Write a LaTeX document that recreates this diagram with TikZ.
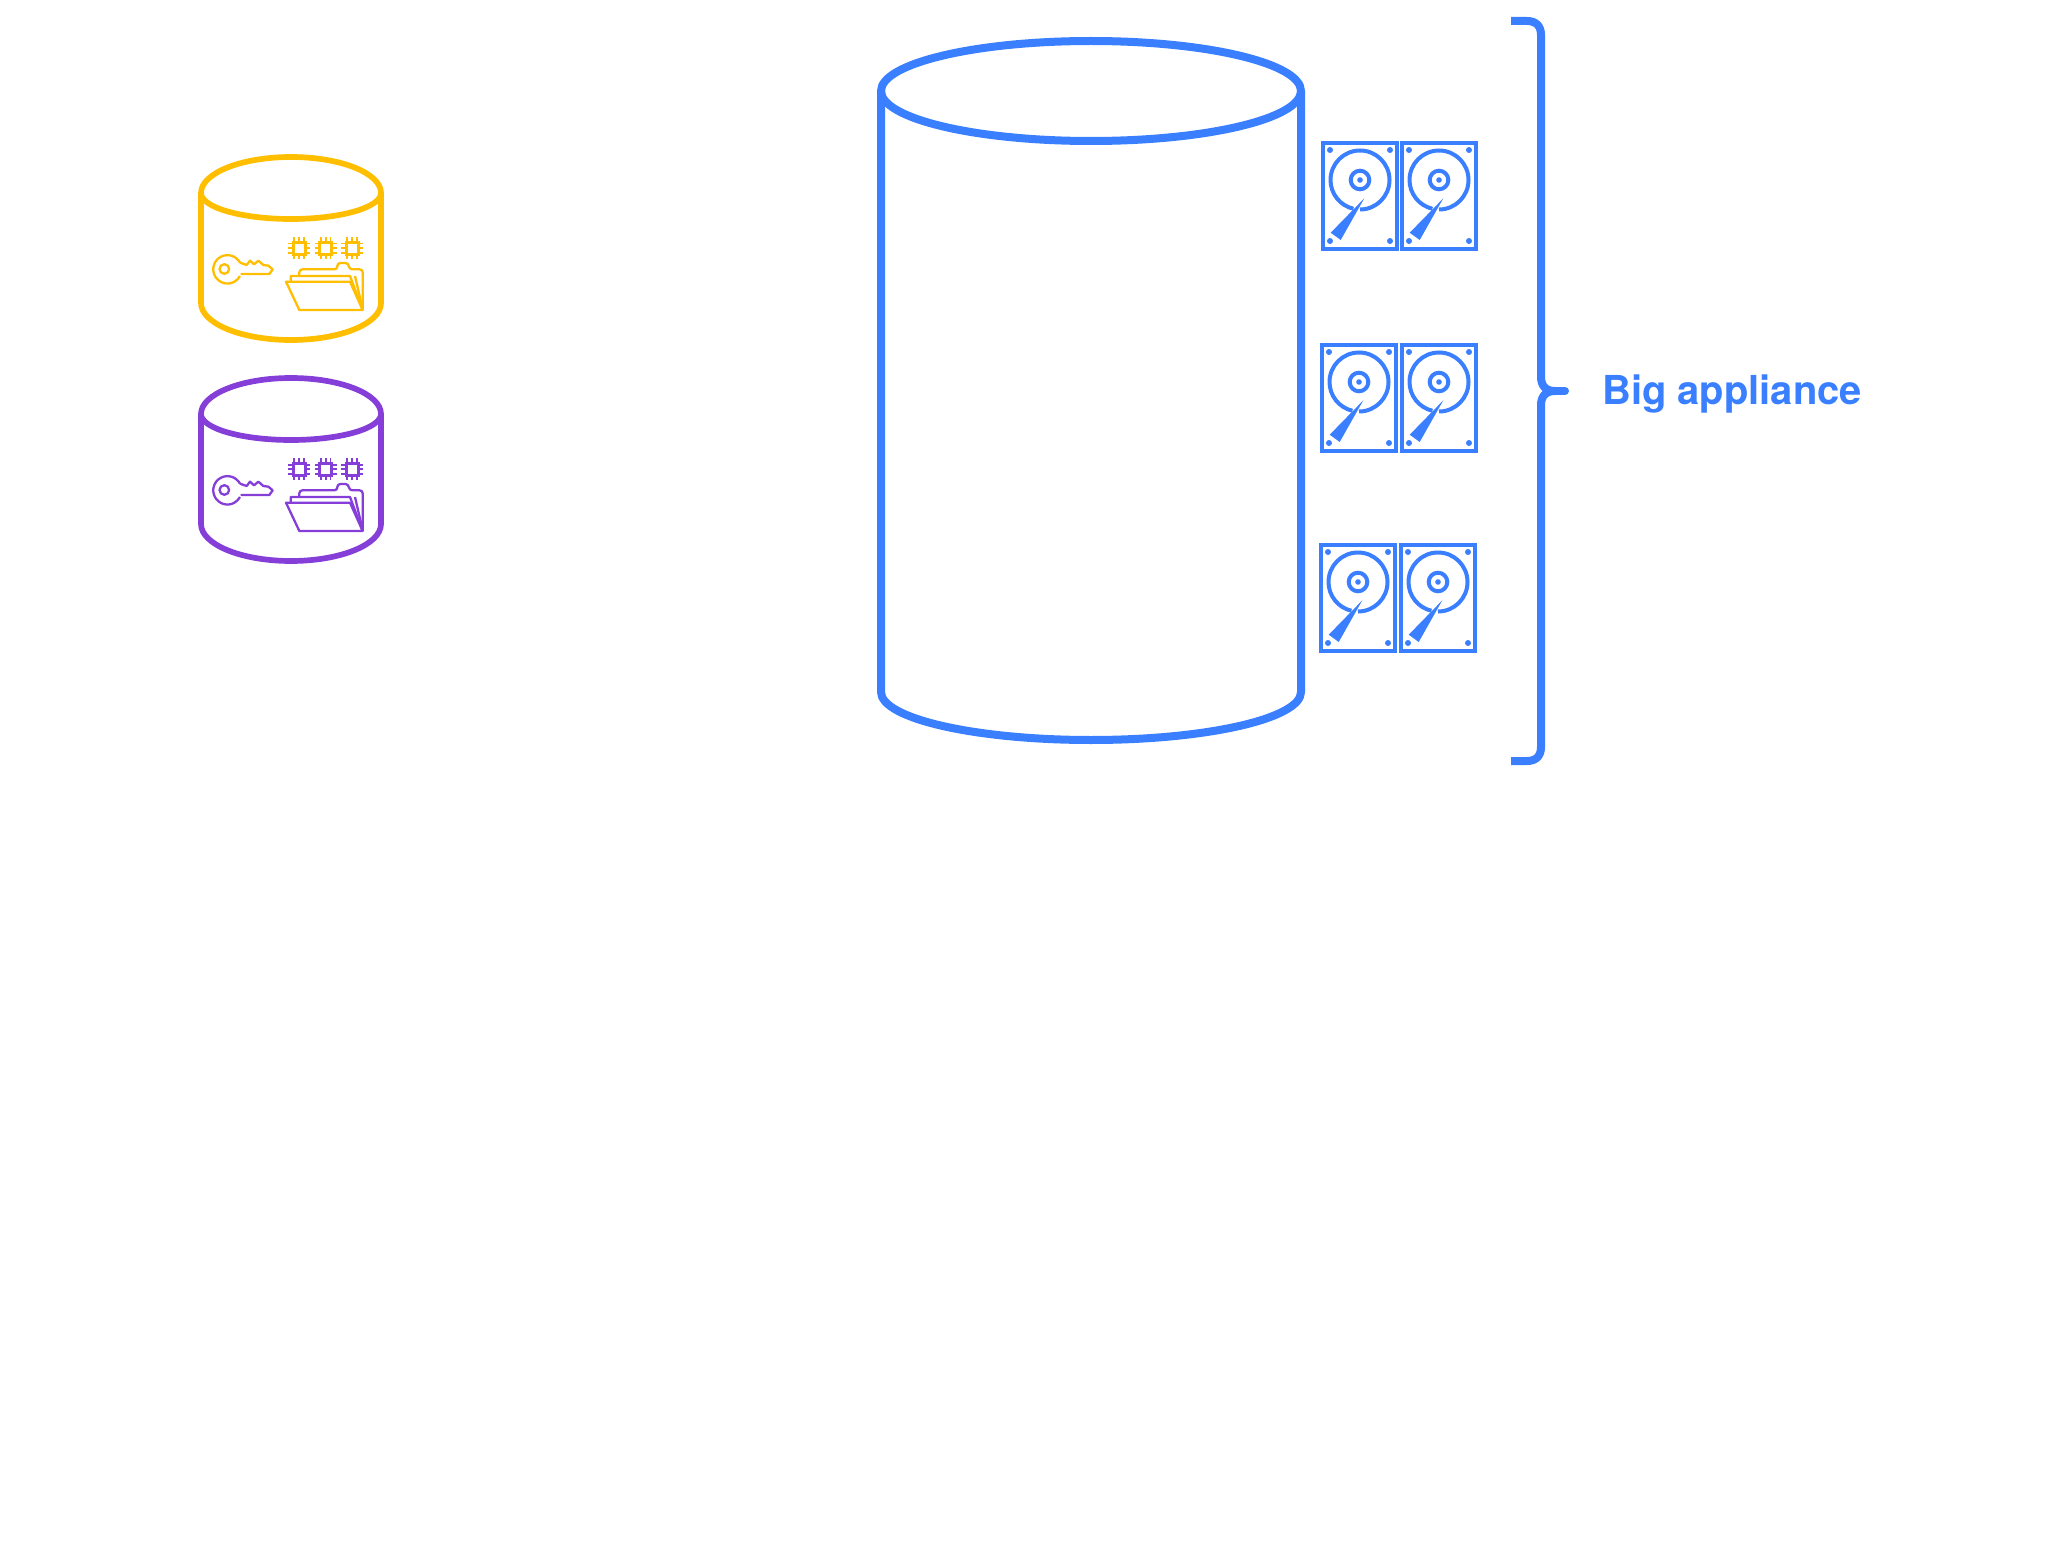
\documentclass[tikz,border=0pt]{standalone}
\usepackage{fontspec}
\setmainfont{TeX Gyre Heros}
\definecolor{bluec}{HTML}{3A7FFF}
\definecolor{yellowc}{HTML}{FFBF00}
\definecolor{purplec}{HTML}{853FD8}
\tikzset{
  big line/.style={draw=bluec,line width=4pt,line join=round},
  small line/.style={line width=2.85pt,line join=round},
  icon line/.style={line width=1.15pt,line join=round},
  chip/.pic={
    \draw[line width=1.5pt] (-6,-6) rectangle (6,6);
    \foreach \o in {-4.7,0,4.7}{
      \draw[line width=.9pt] (\o,-11) -- (\o,-6);
      \draw[line width=.9pt] (\o,6) -- (\o,11);
      \draw[line width=.9pt] (-11,\o) -- (-6,\o);
      \draw[line width=.9pt] (6,\o) -- (11,\o);
    }
  },
  database/.pic={
    \draw[small line] (201,193) arc[start angle=180,end angle=0,x radius=45pt,y radius=18pt] arc[start angle=0,end angle=-180,x radius=45pt,y radius=13pt] -- cycle;
    \draw[small line] (201,193) -- (201,303) arc[start angle=180,end angle=360,x radius=45pt,y radius=18.5pt] -- (381,193);
    \pic at (299,248.3) {chip};
    \pic at (325.7,248.3) {chip};
    \pic at (352,248.3) {chip};
    \begin{scope}[shift={(180,140)},x=0.1666667pt,y=-0.1666667pt]
      % key
      \draw[icon line] (180,368) arc[start angle=28,end angle=332,radius=7.1pt];
      \draw[icon line] (133,387) circle[radius=2.4pt];
      \draw[icon line] (180,368) -- (200,375) -- (210,362) -- (222,373) -- (235,362) -- (250,375) -- (265,377) -- (278,388) -- (268,402) -- (182,402);
      % folder
      \draw[icon line] (318,425) -- (510,425) -- (548,510) -- (358,510) -- cycle;
      \draw[icon line] (332,425) -- (332,408) -- (510,408) -- (548,510);
      \draw[icon line,rounded corners=1.5pt] (358,408) -- (358,388) -- (472,388) -- (472,369) -- (505,369) -- (508,388) -- (548,388) -- (548,510);
      \draw[icon line] (525,408) -- (545,495);
    \end{scope}
  },
  hdd/.pic={
    \draw[draw=bluec,line width=2pt] (0,0) rectangle (74,106);
    \foreach \p in {(7,7),(67,7),(7,98),(67,98)}
      \fill[bluec] \p circle[radius=1.5pt];
    \draw[bluec,line width=2pt] (37,66.5) arc[start angle=-90,end angle=257,radius=14.75pt];
    \draw[bluec,line width=2pt] (37,37) circle[radius=4.65pt];
    \fill[bluec] (37,37) circle[radius=1.4pt];
    \fill[bluec] (41.3,55.3) -- (7.7,89.7) -- (17.7,97) -- cycle;
  }
}
\begin{document}
\begin{tikzpicture}[x=0.5pt,y=-0.5pt]
\useasboundingbox (0,0) rectangle (2062,1562);
% small cylinders
\pic[color=yellowc] at (0,0) {database};
\pic[color=purplec] at (0,221) {database};
% big cylinder
\draw[big line] (1091,91) ellipse [x radius=105pt,y radius=25pt];
\draw[big line] (881,91) -- (881,692) arc[start angle=180,end angle=360,x radius=105pt,y radius=24pt] -- (1301,91);
% drives
\pic at (1323,143) {hdd};
\pic at (1402,143) {hdd};
\pic at (1322,345) {hdd};
\pic at (1402,345) {hdd};
\pic at (1321,545) {hdd};
\pic at (1401,545) {hdd};
% brace
\draw[big line] (1511,21) -- (1527,21) .. controls (1536,21) and (1541,26) .. (1541,35) -- (1541,377) .. controls (1541,386) and (1546,391) .. (1555,391);
\draw[big line] (1511,761) -- (1527,761) .. controls (1536,761) and (1541,756) .. (1541,747) -- (1541,405) .. controls (1541,396) and (1546,391) .. (1555,391);
\draw[big line,line cap=round] (1555,391) -- (1565,391);
\node[anchor=base west,inner sep=0pt,text=bluec,font=\fontsize{19.95pt}{24pt}\selectfont\bfseries] (label) at (1602,404.5) {Big appliance};
\end{tikzpicture}
\end{document}
